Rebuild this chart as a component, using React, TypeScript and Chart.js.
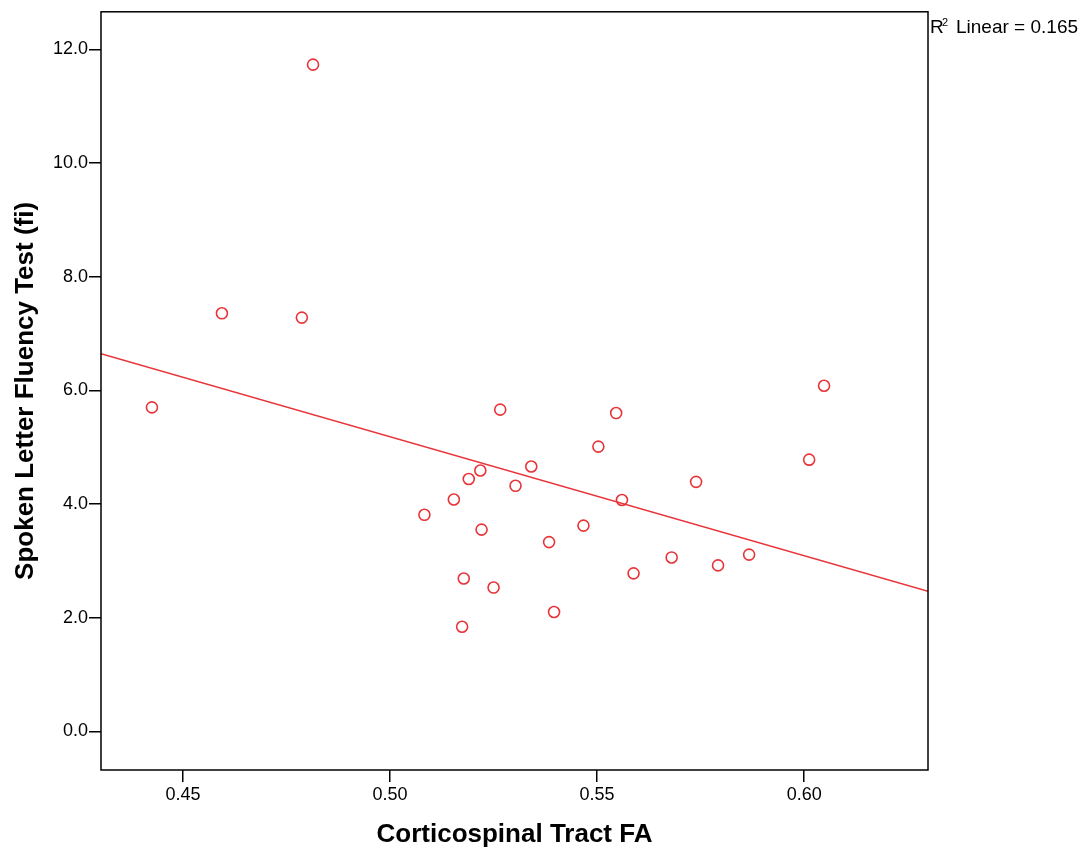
import React, { useEffect, useRef } from "react";
import { Chart, registerables } from "chart.js";

Chart.register(...registerables);

// Corticospinal Tract FA (x) and Spoken Letter Fluency Test (fi) (y)
const faValues = [
  0.4425, 0.4594, 0.4787, 0.4814, 0.5083, 0.5154, 0.5174, 0.5178, 0.519, 0.5218,
  0.5221, 0.525, 0.5266, 0.5303, 0.5341, 0.5384, 0.5396, 0.5467, 0.5503, 0.5546,
  0.556, 0.5588, 0.568, 0.5739, 0.5792, 0.5867, 0.6012, 0.6048,
];
const fluencyValues = [
  5.7, 7.355, 7.28, 11.73, 3.81, 4.08, 1.84, 2.69, 4.44, 4.59,
  3.55, 2.53, 5.66, 4.32, 4.66, 3.33, 2.1, 3.62, 5.01, 5.6,
  4.07, 2.78, 3.06, 4.39, 2.92, 3.11, 4.78, 6.08,
];

// Linear fit line endpoints
const fitX = [0.4302, 0.6299];
const fitY = [6.646, 2.463];

const xTicks = [0.45, 0.5, 0.55, 0.6];
const yTicks = [0, 2, 4, 6, 8, 10, 12];
const xRange = [0.4302, 0.6299];
const yRange = [-0.68, 12.66];

const xTitle = "Corticospinal Tract FA";
const yTitle = "Spoken Letter Fluency Test (fi)";
const rLabel = "R";
const rSup = "2";
const rText = "Linear = 0.165";

const FONT = "'Liberation Sans', Arial, sans-serif";

export default function App() {
  const ref = useRef<HTMLCanvasElement | null>(null);

  useEffect(() => {
    document.body.style.margin = "0";
    const red = "rgb(232,52,56)";

    const framePlugin = {
      id: "frame",
      afterDraw(chart: any) {
        const { ctx, chartArea } = chart;
        ctx.save();
        ctx.strokeStyle = "#000";
        ctx.lineWidth = 1.5;
        ctx.strokeRect(
          chartArea.left,
          chartArea.top,
          chartArea.right - chartArea.left,
          chartArea.bottom - chartArea.top
        );
        ctx.fillStyle = "#000";
        ctx.textBaseline = "alphabetic";
        ctx.textAlign = "left";
        ctx.font = `19px ${FONT}`;
        ctx.fillText(rLabel, chartArea.right + 2, 33);
        ctx.font = `11px ${FONT}`;
        ctx.fillText(rSup, chartArea.right + 14, 26);
        ctx.font = `19px ${FONT}`;
        ctx.fillText(rText, chartArea.right + 28, 33);
        ctx.restore();
      },
    };

    const chart = new Chart(ref.current as HTMLCanvasElement, {
      type: "scatter",
      data: {
        datasets: [
          {
            type: "line",
            data: fitX.map((x, i) => ({ x, y: fitY[i] })),
            borderColor: red,
            borderWidth: 1.5,
            pointRadius: 0,
            fill: false,
          } as any,
          {
            data: faValues.map((x, i) => ({ x, y: fluencyValues[i] })),
            pointRadius: 5.5,
            pointBorderWidth: 1.6,
            borderColor: red,
            backgroundColor: "rgba(0,0,0,0)",
            pointBackgroundColor: "rgba(0,0,0,0)",
          },
        ],
      },
      options: {
        responsive: false,
        animation: false,
        layout: { padding: { top: 10, right: 163, left: 0, bottom: 0 } },
        plugins: {
          legend: { display: false },
          tooltip: { enabled: false },
        },
        scales: {
          x: {
            type: "linear",
            min: xRange[0],
            max: xRange[1],
            afterBuildTicks: (s: any) => {
              s.ticks = xTicks.map((v) => ({ value: v }));
            },
            afterFit: (s: any) => {
              s.height = 84;
            },
            grid: {
              drawOnChartArea: false,
              tickLength: 12,
              color: "#000",
              lineWidth: 1.5,
            },
            border: { display: false },
            ticks: {
              color: "#000",
              font: { family: FONT, size: 18 },
              padding: 2,
              maxRotation: 0,
              autoSkip: false,
              callback: (v: any) => Number(v).toFixed(2),
            },
            title: {
              display: true,
              text: xTitle,
              color: "#000",
              font: { family: FONT, size: 26, weight: "bold" },
              padding: { top: 0, bottom: 4 },
            },
          },
          y: {
            type: "linear",
            min: yRange[0],
            max: yRange[1],
            afterBuildTicks: (s: any) => {
              s.ticks = yTicks.map((v) => ({ value: v }));
            },
            afterFit: (s: any) => {
              s.width = 101;
            },
            grid: {
              drawOnChartArea: false,
              tickLength: 12,
              color: "#000",
              lineWidth: 1.5,
            },
            border: { display: false },
            ticks: {
              color: "#000",
              font: { family: FONT, size: 18 },
              padding: 1,
              autoSkip: false,
              callback: (v: any) => Number(v).toFixed(1),
            },
            title: {
              display: true,
              text: yTitle,
              color: "#000",
              font: { family: FONT, size: 26, weight: "bold" },
              padding: { top: 10, bottom: 0 },
            },
          },
        },
      },
      plugins: [framePlugin],
    } as any);

    return () => chart.destroy();
  }, []);

  return (
    <canvas
      ref={ref}
      width={1091}
      height={854}
      style={{ display: "block", width: 1091, height: 854 }}
    />
  );
}
